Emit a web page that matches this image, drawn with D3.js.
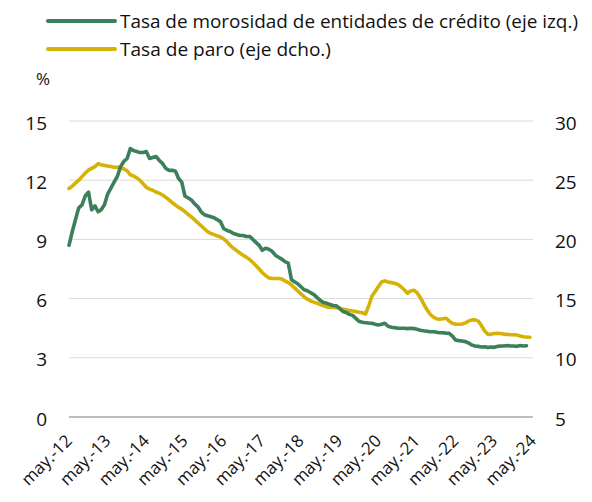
<!DOCTYPE html>
<html>
<head>
<meta charset="utf-8">
<script src="https://cdn.jsdelivr.net/npm/d3@7"></script>
<style>
  html, body { margin: 0; padding: 0; background: #fff; }
  svg text { font-family: "Open Sans", "Noto Sans", sans-serif; fill: #111; }
</style>
</head>
<body>
<svg id="chart" width="592" height="502"></svg>
<script>
// ---- data ----
const startYear = 2012, startMonth = 4; // May 2012 (0-based month)
const seriesNames = ["Tasa de morosidad de entidades de crédito (eje izq.)", "Tasa de paro (eje dcho.)"];
// Tasa de morosidad (%), monthly from may-12
const morosidad = [
  8.7, 9.4, 10.0, 10.6, 10.75, 11.2, 11.4, 10.5, 10.7, 10.4, 10.5, 10.75,
  11.3, 11.6, 11.9, 12.2, 12.7, 12.95, 13.1, 13.6, 13.5, 13.45, 13.4, 13.4,
  13.45, 13.1, 13.15, 13.2, 13.0, 12.85, 12.6, 12.5, 12.5, 12.45, 12.1, 11.9,
  11.2, 11.1, 11.0, 10.8, 10.65, 10.4, 10.25, 10.2, 10.15, 10.1, 10.0, 9.9,
  9.55, 9.45, 9.4, 9.3, 9.25, 9.2, 9.2, 9.15, 9.15, 9.0, 8.85, 8.7,
  8.45, 8.55, 8.5, 8.4, 8.2, 8.1, 8.0, 7.87, 7.8, 6.95, 6.85, 6.75,
  6.6, 6.45, 6.4, 6.3, 6.2, 6.05, 5.9, 5.8, 5.76, 5.7, 5.65, 5.63,
  5.5, 5.35, 5.3, 5.2, 5.15, 5.0, 4.85, 4.8, 4.78, 4.76, 4.75, 4.7,
  4.66, 4.7, 4.75, 4.6, 4.55, 4.53, 4.5, 4.5, 4.5, 4.48, 4.5, 4.48,
  4.45, 4.4, 4.37, 4.35, 4.32, 4.32, 4.3, 4.27, 4.27, 4.25, 4.24, 4.1,
  3.9, 3.87, 3.85, 3.82, 3.75, 3.65, 3.6, 3.58, 3.55, 3.56, 3.52, 3.55,
  3.53, 3.58, 3.6, 3.6, 3.62, 3.6, 3.6, 3.58, 3.62, 3.6, 3.61
];
// Tasa de paro (%), monthly from may-12
const paro = [
  24.3, 24.5, 24.75, 25.0, 25.3, 25.6, 25.85, 26.0, 26.15, 26.4, 26.3, 26.25,
  26.2, 26.15, 26.1, 26.1, 26.05, 25.95, 25.8, 25.45, 25.35, 25.2, 25.0, 24.7,
  24.4, 24.25, 24.15, 24.0, 23.9, 23.75, 23.55, 23.35, 23.1, 22.9, 22.7, 22.55,
  22.35, 22.1, 21.9, 21.65, 21.4, 21.15, 20.9, 20.65, 20.5, 20.4, 20.3, 20.2,
  20.05, 19.8, 19.5, 19.25, 19.05, 18.85, 18.65, 18.5, 18.3, 18.05, 17.8, 17.5,
  17.2, 16.95, 16.75, 16.7, 16.7, 16.7, 16.65, 16.5, 16.35, 16.15, 15.9, 15.65,
  15.4, 15.15, 14.95, 14.8, 14.7, 14.6, 14.5, 14.4, 14.3, 14.25, 14.25, 14.22,
  14.2, 14.1, 14.05, 14.0, 13.95, 13.9, 13.85, 13.8, 13.7, 14.4, 15.2, 15.6,
  16.0, 16.4, 16.5, 16.4, 16.35, 16.3, 16.2, 16.0, 15.75, 15.45, 15.65, 15.7,
  15.5, 15.1, 14.6, 14.1, 13.7, 13.45, 13.3, 13.25, 13.3, 13.34, 13.1, 12.9,
  12.85, 12.83, 12.85, 12.95, 13.1, 13.2, 13.2, 13.1, 12.7, 12.25, 12.0, 11.98,
  12.05, 12.07, 12.05, 12.0, 11.98, 11.95, 11.95, 11.93, 11.85, 11.78, 11.75, 11.73
];
const leftTicks = [0, 3, 6, 9, 12, 15];
const rightTicks = [5, 10, 15, 20, 25, 30];
const xTickLabels = ["may.-12","may.-13","may.-14","may.-15","may.-16","may.-17","may.-18",
                     "may.-19","may.-20","may.-21","may.-22","may.-23","may.-24"];
const unitLabel = "%";
const colors = ["#3b7f5b", "#d6b106"];

// ---- layout ----
const svg = d3.select("#chart");
const m = { left: 69, right: 533, top: 121, bottom: 417 };

const dateOf = i => new Date(startYear, startMonth + i, 1);
const x = d3.scaleTime()
  .domain([dateOf(0), dateOf(144)])
  .range([m.left, m.right]);
const yL = d3.scaleLinear().domain([0, 15]).range([m.bottom, m.top]);
const yR = d3.scaleLinear().domain([5, 30]).range([m.bottom, m.top]);

// gridlines
svg.append("g").selectAll("line")
  .data(leftTicks.filter(t => t !== 0))
  .join("line")
  .attr("x1", m.left).attr("x2", m.right)
  .attr("y1", d => yL(d)).attr("y2", d => yL(d))
  .attr("stroke", "#d9d9d9").attr("stroke-width", 1);

// baseline
svg.append("line")
  .attr("x1", m.left).attr("x2", m.right)
  .attr("y1", yL(0)).attr("y2", yL(0))
  .attr("stroke", "#7f7f7f").attr("stroke-width", 1.2);

// left axis labels
svg.append("g").selectAll("text")
  .data(leftTicks).join("text")
  .attr("x", 47).attr("y", d => yL(d) + 8.5)
  .attr("text-anchor", "end")
  .attr("font-size", 19)
  .text(d => d);

// right axis labels
svg.append("g").selectAll("text")
  .data(rightTicks).join("text")
  .attr("x", 555).attr("y", d => yR(d) + 8.5)
  .attr("text-anchor", "start")
  .attr("font-size", 19)
  .text(d => d);

// unit
svg.append("text").attr("x", 36).attr("y", 85).attr("font-size", 17).text(unitLabel);

// x tick labels
svg.append("g").selectAll("text")
  .data(xTickLabels).join("text")
  .attr("text-anchor", "end")
  .attr("font-size", 17)
  .attr("transform", (d, i) => `translate(${x(dateOf(i * 12)) + 4},442) rotate(-45)`)
  .text(d => d);

// lines
const lineL = d3.line().x((d, i) => x(dateOf(i))).y(d => yL(d));
const lineR = d3.line().x((d, i) => x(dateOf(i))).y(d => yR(d));

svg.append("path").datum(paro)
  .attr("d", lineR).attr("fill", "none")
  .attr("stroke", colors[1]).attr("stroke-width", 3.6)
  .attr("stroke-linejoin", "round").attr("stroke-linecap", "round");

svg.append("path").datum(morosidad)
  .attr("d", lineL).attr("fill", "none")
  .attr("stroke", colors[0]).attr("stroke-width", 3.6)
  .attr("stroke-linejoin", "round").attr("stroke-linecap", "round");

// legend
const legendWidths = [458, 211];
const lg = svg.append("g");
seriesNames.forEach((name, k) => {
  const yy = 21 + k * 28;
  lg.append("line")
    .attr("x1", 48).attr("x2", 115).attr("y1", yy).attr("y2", yy)
    .attr("stroke", colors[k]).attr("stroke-width", 4).attr("stroke-linecap", "round");
  lg.append("text")
    .attr("x", 120).attr("y", yy + 6.5)
    .attr("font-size", 19)
    .attr("textLength", legendWidths[k])
    .attr("lengthAdjust", "spacingAndGlyphs")
    .text(name);
});
</script>
</body>
</html>
